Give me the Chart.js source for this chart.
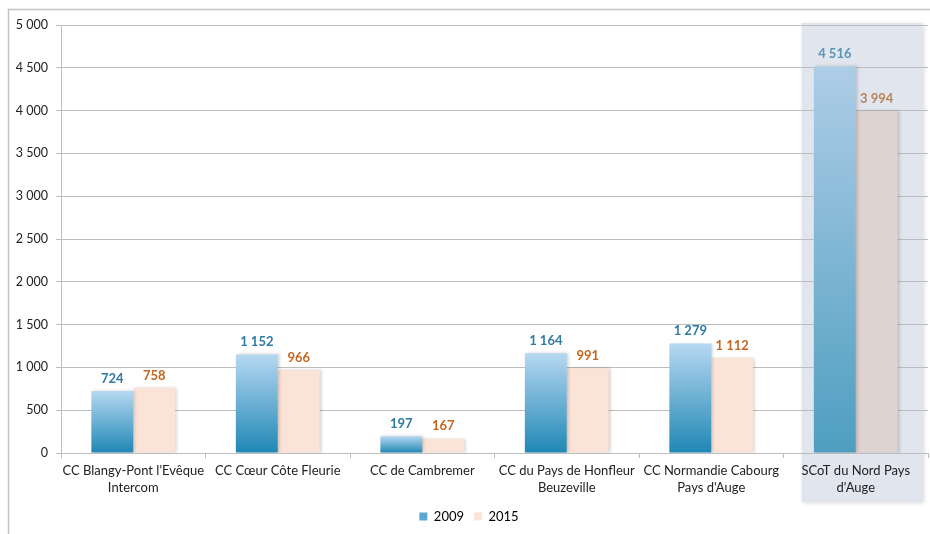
<!DOCTYPE html>
<html>
<head>
<meta charset="utf-8">
<script src="https://cdn.jsdelivr.net/npm/chart.js@4"></script>
<style>
html,body{margin:0;padding:0;background:#fff;}
#wrap{width:930px;height:534px;position:relative;}
</style>
</head>
<body>
<div id="wrap"><canvas id="c" width="930" height="534"></canvas></div>
<script>
const categories = [
  ["CC Blangy-Pont l'Evêque", "Intercom"],
  ["CC Cœur Côte Fleurie"],
  ["CC de Cambremer"],
  ["CC du Pays de Honfleur", "Beuzeville"],
  ["CC Normandie Cabourg", "Pays d'Auge"],
  ["SCoT du Nord Pays", "d'Auge"]
];
const series2009 = [724, 1152, 197, 1164, 1279, 4516];
const series2015 = [758, 966, 167, 991, 1112, 3994];
const seriesNames = ["2009", "2015"];
const yTicks = [0, 500, 1000, 1500, 2000, 2500, 3000, 3500, 4000, 4500, 5000];
const highlightIndex = 5;

const FONT = "Lato, 'Liberation Sans', sans-serif";
function fmt(v){ return String(v).replace(/\B(?=(\d{3})+(?!\d))/g, "\u00a0"); }

function blueGradient(ctx){
  const chart = ctx.chart;
  if (ctx.type !== 'data') return '#5aa7cf';
  const y = chart.scales.y;
  if (!y) return '#5aa7cf';
  const top = y.getPixelForValue(ctx.raw);
  const bottom = y.getPixelForValue(0);
  if (!isFinite(top) || !isFinite(bottom) || top === bottom) return '#5aa7cf';
  const g = chart.ctx.createLinearGradient(0, top, 0, bottom);
  if (ctx.dataIndex === highlightIndex) {
    g.addColorStop(0, '#aecde7');
    g.addColorStop(1, '#4e9ec0');
  } else {
    g.addColorStop(0, '#b6d8f1');
    g.addColorStop(1, '#1f87b4');
  }
  return g;
}
function peachColor(ctx){
  return ctx.dataIndex === highlightIndex ? '#dfd3d2' : '#fbe3d7';
}

const framePlugin = {
  id: 'frame',
  beforeDraw(chart){
    const c = chart.ctx;
    c.save();
    c.strokeStyle = '#c4c4c4';
    c.lineWidth = 1.5;
    c.beginPath();
    c.moveTo(8.5, 534);
    c.lineTo(8.5, 9.5);
    c.lineTo(930, 9.5);
    c.stroke();
    // highlight box behind last category
    const x = chart.scales.x;
    const cx = x.getPixelForValue(highlightIndex);
    const left = cx - 54, right = cx + 67;
    const top = chart.chartArea.top - 2, bottom = 502;
    c.shadowColor = 'rgba(0,0,0,0.15)';
    c.shadowBlur = 4;
    c.shadowOffsetX = 1;
    c.shadowOffsetY = 1;
    c.fillStyle = '#e1e5ee';
    c.fillRect(left, top, right - left, bottom - top);
    c.restore();
  }
};

const shadowPlugin = {
  id: 'shadow',
  beforeDatasetDraw(chart){
    const c = chart.ctx;
    c.save();
    c.shadowColor = 'rgba(0,0,0,0.18)';
    c.shadowBlur = 3;
    c.shadowOffsetX = 2;
    c.shadowOffsetY = 0;
  },
  afterDatasetDraw(chart){
    chart.ctx.restore();
  }
};

const labelPlugin = {
  id: 'labels',
  afterDatasetsDraw(chart){
    const c = chart.ctx;
    const colors = ['#2f7aa4', '#c4661e'];
    const hiColors = ['#5a94b6', '#b8845c'];
    c.save();
    c.font = "bold 13px " + FONT;
    c.textAlign = 'center';
    c.textBaseline = 'bottom';
    chart.data.datasets.forEach((ds, di) => {
      const meta = chart.getDatasetMeta(di);
      meta.data.forEach((el, i) => {
        c.fillStyle = i === highlightIndex ? hiColors[di] : colors[di];
        c.fillText(fmt(ds.data[i]), el.x, el.y - 6);
      });
    });
    c.restore();
  }
};

new Chart(document.getElementById('c'), {
  type: 'bar',
  data: {
    labels: categories,
    datasets: [
      { label: seriesNames[0], data: series2009, backgroundColor: blueGradient,
        categoryPercentage: 0.58, barPercentage: 1.0 },
      { label: seriesNames[1], data: series2015, backgroundColor: peachColor,
        categoryPercentage: 0.58, barPercentage: 1.0 }
    ]
  },
  options: {
    responsive: false,
    animation: false,
    devicePixelRatio: 1,
    layout: { padding: { left: 10, top: 25, right: 2, bottom: 1 } },
    plugins: {
      legend: {
        position: 'bottom',
        labels: {
          font: { family: FONT, size: 13 },
          color: '#222',
          boxWidth: 8, boxHeight: 8, padding: 10,
          generateLabels(chart){
            return chart.data.datasets.map((ds, i) => ({
              text: ds.label,
              fillStyle: i === 0 ? '#5aa7cf' : '#fbe3d7',
              strokeStyle: 'rgba(0,0,0,0)',
              lineWidth: 0,
              datasetIndex: i
            }));
          }
        }
      },
      tooltip: { enabled: false }
    },
    scales: {
      y: {
        min: 0, max: 5000,
        afterBuildTicks(scale){ scale.ticks = yTicks.map(v => ({ value: v })); },
        ticks: { font: { family: FONT, size: 12.5 }, color: '#222', padding: 8,
                 callback: v => fmt(v) },
        grid: { color: '#bdbdbd', lineWidth: 1, tickLength: 5 },
        border: { color: '#bdbdbd', width: 1 },
        afterFit(scale){ scale.width = 51; }
      },
      x: {
        ticks: { font: { family: FONT, size: 13, lineHeight: 1.25 }, color: '#222', padding: 5,
                 maxRotation: 0, minRotation: 0, autoSkip: false },
        grid: { color: '#bdbdbd', drawOnChartArea: false, tickLength: 5, offset: true },
        border: { color: '#bdbdbd', width: 1 },
        afterFit(scale){ scale.height = 47; }
      }
    }
  },
  plugins: [framePlugin, shadowPlugin, labelPlugin]
});
</script>
</body>
</html>
